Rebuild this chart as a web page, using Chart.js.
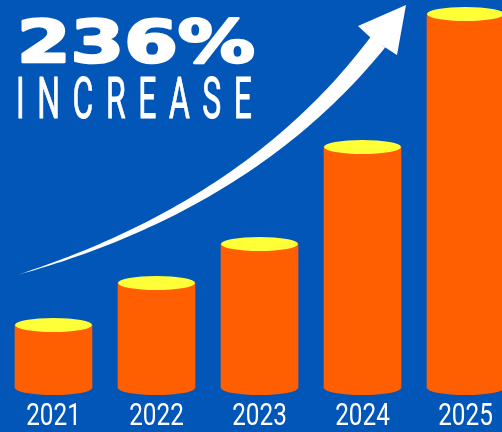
<!DOCTYPE html>
<html>
<head>
<meta charset="utf-8">
<script src="https://cdn.jsdelivr.net/npm/chart.js@4.4.1/dist/chart.umd.min.js"></script>
<style>
  html, body { margin: 0; padding: 0; background: #0256b8; }
  canvas { display: block; }
</style>
</head>
<body>
<canvas id="growthChart" width="502" height="432"></canvas>
<script>
const years = ['2021', '2022', '2023', '2024', '2025'];
const revenue = [63, 105, 144, 241, 374];
const axisMax = 388;
const headline = '236%';
const subline = 'INCREASE';

const BLUE = '#0256b8';
const ORANGE = '#ff5f00';
const CAP_YELLOW = '#ffff38';
const CAP_RY = 7;

const backdrop = {
  id: 'backdrop',
  beforeDraw(chart) {
    const ctx = chart.ctx;
    ctx.save();
    ctx.fillStyle = BLUE;
    ctx.fillRect(0, 0, chart.width, chart.height);
    ctx.restore();
  }
};

// swoosh arrow: quadratic centre line, width grows from the tail to the head
const growthArrow = {
  id: 'growthArrow',
  beforeDatasetsDraw(chart) {
    const ctx = chart.ctx;
    const p0 = { x: 17, y: 275 }, c = { x: 251, y: 205 }, p2 = { x: 378, y: 42 };
    const steps = 60, endHalf = 9;
    const left = [], right = [];
    for (let i = 0; i <= steps; i++) {
      const t = i / steps, u = 1 - t;
      const x = u * u * p0.x + 2 * u * t * c.x + t * t * p2.x;
      const y = u * u * p0.y + 2 * u * t * c.y + t * t * p2.y;
      const dx = 2 * u * (c.x - p0.x) + 2 * t * (p2.x - c.x);
      const dy = 2 * u * (c.y - p0.y) + 2 * t * (p2.y - c.y);
      const len = Math.hypot(dx, dy);
      const nx = -dy / len, ny = dx / len;
      const hw = endHalf * Math.pow(t, 0.9);
      left.push([x + nx * hw, y + ny * hw]);
      right.push([x - nx * hw, y - ny * hw]);
    }
    ctx.save();
    ctx.fillStyle = '#ffffff';
    ctx.beginPath();
    ctx.moveTo(left[0][0], left[0][1]);
    left.forEach(p => ctx.lineTo(p[0], p[1]));
    for (let i = right.length - 1; i >= 0; i--) ctx.lineTo(right[i][0], right[i][1]);
    ctx.closePath();
    ctx.fill();
    // head
    ctx.beginPath();
    ctx.moveTo(406, 5);
    ctx.lineTo(397, 55);
    ctx.lineTo(383, 46);
    ctx.lineTo(372, 39);
    ctx.lineTo(358, 26);
    ctx.closePath();
    ctx.fill();
    ctx.restore();
  }
};

const headlineText = {
  id: 'headlineText',
  afterDraw(chart) {
    const ctx = chart.ctx;
    ctx.save();
    ctx.fillStyle = '#ffffff';
    ctx.strokeStyle = '#ffffff';
    ctx.lineJoin = 'round';
    ctx.textBaseline = 'alphabetic';

    // big percentage, stretched wide and heavy
    ctx.font = 'bold 58px "DejaVu Sans"';
    const w = ctx.measureText(headline).width;
    ctx.save();
    ctx.translate(17, 62);
    ctx.scale(238 / w, 1);
    ctx.lineWidth = 2.5;
    ctx.fillText(headline, 0, 0);
    ctx.strokeText(headline, 0, 0);
    ctx.restore();

    // thin condensed word, letters spread over the same width
    const sx = 0.55;
    ctx.font = '58px Roboto';
    ctx.lineWidth = 1;
    const letters = subline.split('');
    const widths = letters.map(ch => ctx.measureText(ch).width * sx);
    const total = widths.reduce((s, v) => s + v, 0);
    const gap = (236 - total) / (letters.length - 1);
    let x = 16;
    letters.forEach((ch, i) => {
      ctx.save();
      ctx.translate(x, 118);
      ctx.scale(sx, 1);
      ctx.fillText(ch, 0, 0);
      ctx.strokeText(ch, 0, 0);
      ctx.restore();
      x += widths[i] + gap;
    });
    ctx.restore();
  }
};

// year labels under each cylinder, taken from the category scale, drawn narrow
const yearLabels = {
  id: 'yearLabels',
  afterDraw(chart) {
    const ctx = chart.ctx;
    const scale = chart.scales.x;
    ctx.save();
    ctx.fillStyle = '#ffffff';
    ctx.font = '32px Roboto';
    ctx.textAlign = 'center';
    ctx.textBaseline = 'alphabetic';
    scale.ticks.forEach((tick, i) => {
      const px = scale.getPixelForTick(i);
      ctx.save();
      ctx.translate(px, 425);
      ctx.scale(0.76, 1);
      ctx.fillText(scale.getLabelForValue(tick.value), 0, 0);
      ctx.restore();
    });
    ctx.restore();
  }
};

// cylinder caps: yellow lid on top, rounded orange base underneath
const cylinderCaps = {
  id: 'cylinderCaps',
  afterDatasetsDraw(chart) {
    const ctx = chart.ctx;
    chart.getDatasetMeta(0).data.forEach(bar => {
      const rx = bar.width / 2;
      ctx.save();
      ctx.fillStyle = ORANGE;
      ctx.beginPath();
      ctx.ellipse(bar.x, bar.base, rx, CAP_RY, 0, 0, Math.PI);
      ctx.fill();
      ctx.fillStyle = CAP_YELLOW;
      ctx.beginPath();
      ctx.ellipse(bar.x, bar.y, rx, CAP_RY, 0, 0, Math.PI * 2);
      ctx.fill();
      ctx.restore();
    });
  }
};

new Chart(document.getElementById('growthChart'), {
  type: 'bar',
  data: {
    labels: years,
    datasets: [{
      data: revenue,
      backgroundColor: ORANGE,
      borderWidth: 0,
      barThickness: 77,
      clip: false
    }]
  },
  options: {
    responsive: false,
    animation: false,
    devicePixelRatio: 1,
    layout: { padding: { left: 53.5, right: 36.5, top: 0, bottom: 44 } },
    plugins: {
      legend: { display: false },
      tooltip: { enabled: false }
    },
    scales: {
      x: {
        offset: false,
        grid: { display: false, drawTicks: false },
        border: { display: false },
        ticks: { display: false, autoSkip: false }
      },
      y: { display: false, min: 0, max: axisMax }
    }
  },
  plugins: [backdrop, growthArrow, cylinderCaps, headlineText, yearLabels]
});
</script>
</body>
</html>
